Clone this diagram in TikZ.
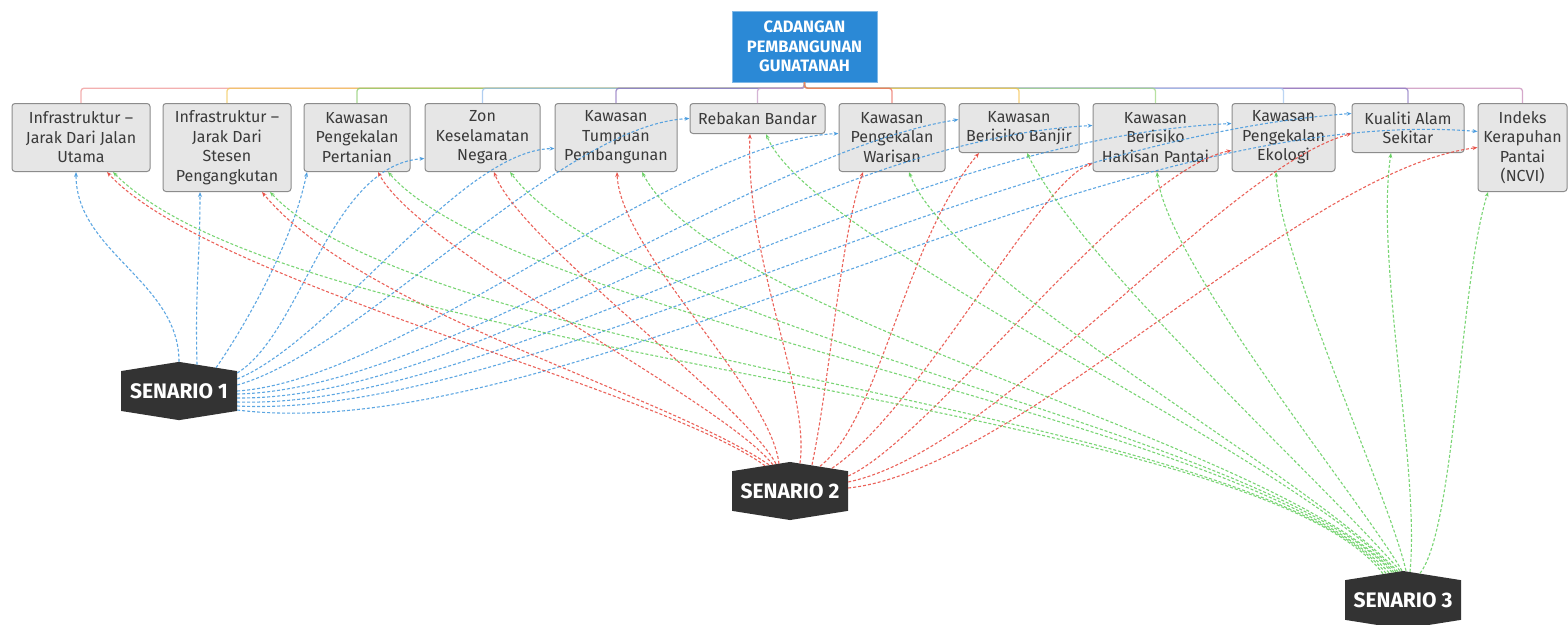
\documentclass[tikz,border=0pt]{standalone}
\usepackage{fontspec}
\setmainfont{Fira Sans}
\usetikzlibrary{arrows.meta,shapes.symbols}

\definecolor{rootblue}{RGB}{43,137,214}
\definecolor{boxfill}{RGB}{230,230,230}
\definecolor{boxline}{RGB}{140,140,140}
\definecolor{boxtext}{RGB}{58,58,58}
\definecolor{senfill}{RGB}{51,51,51}
\definecolor{relblue}{RGB}{66,152,222}
\definecolor{relred}{RGB}{232,72,62}
\definecolor{relgreen}{RGB}{98,206,92}
% branch colours, left to right
\definecolor{brA}{RGB}{240,150,150}
\definecolor{brB}{RGB}{242,200,90}
\definecolor{brC}{RGB}{140,205,110}
\definecolor{brD}{RGB}{150,190,235}
\definecolor{brE}{RGB}{140,115,190}
\definecolor{brF}{RGB}{200,155,200}
\definecolor{brG}{RGB}{235,110,95}
\definecolor{brH}{RGB}{245,195,80}
\definecolor{brI}{RGB}{160,215,130}
\definecolor{brJ}{RGB}{165,200,240}
\definecolor{brK}{RGB}{140,120,195}
\definecolor{brL}{RGB}{200,140,185}

\tikzset{
  root/.style={rectangle, fill=rootblue, draw=rootblue!60!white, text=white, align=center,
               minimum width=145pt, minimum height=71pt, font=\fontsize{16.5}{19.5}\selectfont\bfseries},
  topic/.style={rectangle, rounded corners=3pt, draw=boxline, fill=boxfill, line width=1pt,
                text=boxtext, align=center, inner sep=3pt, anchor=north,
                font=\fontsize{16}{19.5}\selectfont},
  senario/.style={signal, signal to=north and south, signal pointer angle=162, fill=senfill,
                  text=white, minimum width=116pt, minimum height=56pt, inner sep=2pt,
                  font=\fontsize{21}{24}\selectfont\bfseries},
  branch/.style={line width=1.3pt, rounded corners=3pt, opacity=0.75},
  rel/.style={densely dashed, line width=1.1pt, opacity=0.85, -{Stealth[length=5pt,width=4pt]}},
  s1rel/.style={rel, relblue},
  s2rel/.style={rel, relred},
  s3rel/.style={rel, relgreen},
}

\begin{document}
\begin{tikzpicture}[x=1pt, y=-1pt]
  \path[use as bounding box, fill=white] (0,0) rectangle (1568,624);

  \node[root] (root) at (804.5,46.5) {CADANGAN\\PEMBANGUNAN\\GUNATANAH};

  \node[topic, minimum width=138pt, minimum height=68pt] (jalan) at (81,103) {Infrastruktur –\\Jarak Dari Jalan\\Utama};
  \node[topic, minimum width=128pt, minimum height=88pt] (stesen) at (227,103) {Infrastruktur –\\Jarak Dari\\Stesen\\Pengangkutan};
  \node[topic, minimum width=106pt, minimum height=68pt] (pertanian) at (357,103) {Kawasan\\Pengekalan\\Pertanian};
  \node[topic, minimum width=115pt, minimum height=68pt] (zon) at (482.5,103) {Zon\\Keselamatan\\Negara};
  \node[topic, minimum width=122pt, minimum height=68pt] (tumpuan) at (616,103) {Kawasan\\Tumpuan\\Pembangunan};
  \node[topic, minimum width=135pt, minimum height=30pt] (rebakan) at (757.5,103) {Rebakan Bandar};
  \node[topic, minimum width=106pt, minimum height=68pt] (warisan) at (892,103) {Kawasan\\Pengekalan\\Warisan};
  \node[topic, minimum width=120pt, minimum height=49pt] (banjir) at (1019,103) {Kawasan\\Berisiko Banjir};
  \node[topic, minimum width=125pt, minimum height=68pt] (hakisan) at (1155.5,103) {Kawasan\\Berisiko\\Hakisan Pantai};
  \node[topic, minimum width=103pt, minimum height=68pt] (ekologi) at (1283.5,103) {Kawasan\\Pengekalan\\Ekologi};
  \node[topic, minimum width=112pt, minimum height=49pt] (kualiti) at (1408,103) {Kualiti Alam\\Sekitar};
  \node[topic, minimum width=89pt, minimum height=88pt] (ncvi) at (1522.5,103) {Indeks\\Kerapuhan\\Pantai\\(NCVI)};

  % branches from the central topic
  \draw[branch, brA] (root.south) -- ++(0,6) -| (jalan.north);
  \draw[branch, brB] (root.south) -- ++(0,6) -| (stesen.north);
  \draw[branch, brC] (root.south) -- ++(0,6) -| (pertanian.north);
  \draw[branch, brD] (root.south) -- ++(0,6) -| (zon.north);
  \draw[branch, brE] (root.south) -- ++(0,6) -| (tumpuan.north);
  \draw[branch, brF] (root.south) -- ++(0,6) -| (rebakan.north);
  \draw[branch, brL] (root.south) -- ++(0,6) -| (ncvi.north);
  \draw[branch, brK] (root.south) -- ++(0,6) -| (kualiti.north);
  \draw[branch, brJ] (root.south) -- ++(0,6) -| (ekologi.north);
  \draw[branch, brI] (root.south) -- ++(0,6) -| (hakisan.north);
  \draw[branch, brH] (root.south) -- ++(0,6) -| (banjir.north);
  \draw[branch, brG] (root.south) -- ++(0,6) -| (warisan.north);

  \node[senario] (s1) at (179,391) {SENARIO 1};
  \node[senario] (s2) at (790,491) {SENARIO 2};
  \node[senario] (s3) at (1403,600) {SENARIO 3};

  % senario 1
  \draw[s1rel] (s1.north) .. controls +(0,-80) and +(0,80) .. ([xshift=-5pt]jalan.south);
  \draw[s1rel] ([xshift=18pt,yshift=-3pt]s1.north) .. controls +(-2,-80) and +(0,70) .. ([xshift=-27pt]stesen.south);
  \draw[s1rel] ([xshift=37pt,yshift=-6pt]s1.north) .. controls +(20,-28) and +(-16,78) .. ([xshift=-50pt]pertanian.south);
  \draw[s1rel] ([yshift=18pt]s1.east) .. controls +(65,-40) and +(-95,7) .. ([yshift=-21pt]zon.west);
  \draw[s1rel] ([yshift=12pt]s1.east) .. controls +(95,-39) and +(-95,2) .. ([yshift=-11pt]tumpuan.west);
  \draw[s1rel] ([yshift=6pt]s1.east) .. controls +(125,-35) and +(-130,7) .. (rebakan.west);
  \draw[s1rel] (s1.east) .. controls +(165,-11) and +(-159,7) .. ([yshift=4pt]warisan.west);
  \draw[s1rel] ([yshift=-3pt]s1.east) .. controls +(205,-4) and +(-199,31) .. ([yshift=8.5pt]banjir.west);
  \draw[s1rel] ([yshift=-7pt]s1.east) .. controls +(245,2) and +(-293,15) .. ([yshift=12pt]hakisan.west);
  \draw[s1rel] ([yshift=-11pt]s1.east) .. controls +(265,8) and +(-352,17) .. ([yshift=14pt]ekologi.west);
  \draw[s1rel] ([yshift=-15pt]s1.east) .. controls +(285,14) and +(-372,27) .. ([yshift=14.5pt]kualiti.west);
  \draw[s1rel] ([yshift=-19pt]s1.east) .. controls +(325,40) and +(-378,-31) .. ([yshift=16pt]ncvi.west);

  % senario 2
  \draw[s2rel] ([xshift=-25pt,yshift=-4pt]s2.north) .. controls +(-105,-77) and +(100,110) .. ([xshift=26pt]jalan.south);
  \draw[s2rel] ([xshift=-21pt,yshift=-3pt]s2.north) .. controls +(-104,-71) and +(98,119) .. ([xshift=35pt]stesen.south);
  \draw[s2rel] ([xshift=-17pt,yshift=-3pt]s2.north) .. controls +(-53,-66) and +(42,79) .. ([xshift=21pt]pertanian.south);
  \draw[s2rel] ([xshift=-14pt,yshift=-2pt]s2.north) .. controls +(-36,-65) and +(26,69) .. ([xshift=11.5pt]zon.south);
  \draw[s2rel] ([xshift=-11pt,yshift=-2pt]s2.north) .. controls +(-9,-75) and +(3,79) .. ([xshift=1pt]tumpuan.south);
  \draw[s2rel] ([xshift=10pt,yshift=-1.5pt]s2.north) .. controls +(10,-74) and +(-5,127) .. ([xshift=-7.5pt]rebakan.south);
  \draw[s2rel] ([xshift=22pt,yshift=-3pt]s2.north) .. controls +(18,-86) and +(-23,69) .. ([xshift=-29pt]warisan.south);
  \draw[s2rel] ([xshift=30pt,yshift=-4.5pt]s2.north) .. controls +(60,-47) and +(-74,88) .. ([xshift=-40pt]banjir.south);
  \draw[s2rel] ([xshift=42pt,yshift=-6.5pt]s2.north) .. controls +(88,-59) and +(-53,17) .. ([yshift=-26pt]hakisan.west);
  \draw[s2rel] ([yshift=15pt]s2.east) .. controls +(82,-36) and +(-102,20) .. ([yshift=-13pt]ekologi.west);
  \draw[s2rel] ([yshift=9pt]s2.east) .. controls +(152,-32) and +(-132,37) .. ([yshift=-5.5pt]kualiti.west);
  \draw[s2rel] ([yshift=3pt]s2.east) .. controls +(172,-18) and +(-178,23) .. (ncvi.west);

  % senario 3
  \draw[s3rel] ([xshift=-20pt,yshift=-3pt]s3.north) .. controls +(-133,-175) and +(187,189) .. ([xshift=32pt]jalan.south);
  \draw[s3rel] ([xshift=-17pt,yshift=-2.5pt]s3.north) .. controls +(-136,-165) and +(160,169) .. ([xshift=43pt]stesen.south);
  \draw[s3rel] ([xshift=-14pt,yshift=-2pt]s3.north) .. controls +(-139,-154) and +(132,149) .. ([xshift=31pt]pertanian.south);
  \draw[s3rel] ([xshift=-11pt,yshift=-1.5pt]s3.north) .. controls +(-132,-144) and +(120,159) .. ([xshift=27.5pt]zon.south);
  \draw[s3rel] ([xshift=-9pt,yshift=-1.5pt]s3.north) .. controls +(-124,-133) and +(78,149) .. ([xshift=26pt]tumpuan.south);
  \draw[s3rel] ([xshift=-7pt,yshift=-1pt]s3.north) .. controls +(-116,-123) and +(44,107) .. ([xshift=8.5pt]rebakan.south);
  \draw[s3rel] ([xshift=-5pt,yshift=-1pt]s3.north) .. controls +(-98,-103) and +(41,109) .. ([xshift=17pt]warisan.south);
  \draw[s3rel] ([xshift=-3pt]s3.north) .. controls +(-80,-92) and +(53,108) .. ([xshift=8pt]banjir.south);
  \draw[s3rel] ([xshift=-1pt]s3.north) .. controls +(-42,-72) and +(8,89) .. ([xshift=1.5pt]hakisan.south);
  \draw[s3rel] ([xshift=3pt]s3.north) .. controls +(-16,-72) and +(4,89) .. ([xshift=-7.5pt]ekologi.south);
  \draw[s3rel] ([xshift=7pt,yshift=-1pt]s3.north) .. controls +(10,-103) and +(-16,108) .. ([xshift=-17pt]kualiti.south);
  \draw[s3rel] ([xshift=17pt,yshift=-2.5pt]s3.north) .. controls +(35,-45) and +(-28,89) .. ([xshift=-34.5pt]ncvi.south);
\end{tikzpicture}
\end{document}
